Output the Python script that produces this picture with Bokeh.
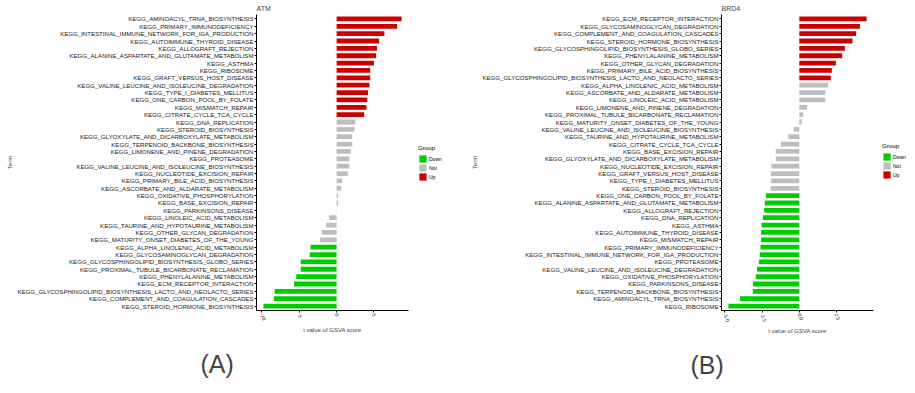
from bokeh.plotting import figure
from bokeh.models import FactorRange, Range1d, FixedTicker, Legend, LegendItem, Title, ColumnDataSource
from bokeh.layouts import row
from bokeh.embed import file_html
from bokeh.resources import INLINE

# ---------------- data ----------------
atm_terms = [
    "KEGG_AMINOACYL_TRNA_BIOSYNTHESIS",
    "KEGG_PRIMARY_IMMUNODEFICIENCY",
    "KEGG_INTESTINAL_IMMUNE_NETWORK_FOR_IGA_PRODUCTION",
    "KEGG_AUTOIMMUNE_THYROID_DISEASE",
    "KEGG_ALLOGRAFT_REJECTION",
    "KEGG_ALANINE_ASPARTATE_AND_GLUTAMATE_METABOLISM",
    "KEGG_ASTHMA",
    "KEGG_RIBOSOME",
    "KEGG_GRAFT_VERSUS_HOST_DISEASE",
    "KEGG_VALINE_LEUCINE_AND_ISOLEUCINE_DEGRADATION",
    "KEGG_TYPE_I_DIABETES_MELLITUS",
    "KEGG_ONE_CARBON_POOL_BY_FOLATE",
    "KEGG_MISMATCH_REPAIR",
    "KEGG_CITRATE_CYCLE_TCA_CYCLE",
    "KEGG_DNA_REPLICATION",
    "KEGG_STEROID_BIOSYNTHESIS",
    "KEGG_GLYOXYLATE_AND_DICARBOXYLATE_METABOLISM",
    "KEGG_TERPENOID_BACKBONE_BIOSYNTHESIS",
    "KEGG_LIMONENE_AND_PINENE_DEGRADATION",
    "KEGG_PROTEASOME",
    "KEGG_VALINE_LEUCINE_AND_ISOLEUCINE_BIOSYNTHESIS",
    "KEGG_NUCLEOTIDE_EXCISION_REPAIR",
    "KEGG_PRIMARY_BILE_ACID_BIOSYNTHESIS",
    "KEGG_ASCORBATE_AND_ALDARATE_METABOLISM",
    "KEGG_OXIDATIVE_PHOSPHORYLATION",
    "KEGG_BASE_EXCISION_REPAIR",
    "KEGG_PARKINSONS_DISEASE",
    "KEGG_LINOLEIC_ACID_METABOLISM",
    "KEGG_TAURINE_AND_HYPOTAURINE_METABOLISM",
    "KEGG_OTHER_GLYCAN_DEGRADATION",
    "KEGG_MATURITY_ONSET_DIABETES_OF_THE_YOUNG",
    "KEGG_ALPHA_LINOLENIC_ACID_METABOLISM",
    "KEGG_GLYCOSAMINOGLYCAN_DEGRADATION",
    "KEGG_GLYCOSPHINGOLIPID_BIOSYNTHESIS_GLOBO_SERIES",
    "KEGG_PROXIMAL_TUBULE_BICARBONATE_RECLAMATION",
    "KEGG_PHENYLALANINE_METABOLISM",
    "KEGG_ECM_RECEPTOR_INTERACTION",
    "KEGG_GLYCOSPHINGOLIPID_BIOSYNTHESIS_LACTO_AND_NEOLACTO_SERIES",
    "KEGG_COMPLEMENT_AND_COAGULATION_CASCADES",
    "KEGG_STEROID_HORMONE_BIOSYNTHESIS",
]
atm_t = [8.7, 8.1, 6.4, 5.7, 5.4, 5.3, 5.0, 4.5, 4.5, 4.4,
         4.2, 4.1, 4.0, 3.7, 2.5, 2.4, 2.1, 2.1, 1.9, 1.7,
         1.7, 1.5, 0.76, 0.6, 0.2, 0.2, 0.03, -1.0, -1.4, -2.0,
         -2.2, -3.5, -3.6, -4.8, -4.8, -5.4, -5.7, -8.3, -8.4, -9.8]
atm_group = ["Up", "Up", "Up", "Up", "Up", "Up", "Up", "Up", "Up", "Up",
             "Up", "Up", "Up", "Up", "Not", "Not", "Not", "Not", "Not", "Not",
             "Not", "Not", "Not", "Not", "Not", "Not", "Not", "Not", "Not", "Not",
             "Not", "Down", "Down", "Down", "Down", "Down", "Down", "Down", "Down", "Down"]

brd4_terms = [
    "KEGG_ECM_RECEPTOR_INTERACTION",
    "KEGG_GLYCOSAMINOGLYCAN_DEGRADATION",
    "KEGG_COMPLEMENT_AND_COAGULATION_CASCADES",
    "KEGG_STEROID_HORMONE_BIOSYNTHESIS",
    "KEGG_GLYCOSPHINGOLIPID_BIOSYNTHESIS_GLOBO_SERIES",
    "KEGG_PHENYLALANINE_METABOLISM",
    "KEGG_OTHER_GLYCAN_DEGRADATION",
    "KEGG_PRIMARY_BILE_ACID_BIOSYNTHESIS",
    "KEGG_GLYCOSPHINGOLIPID_BIOSYNTHESIS_LACTO_AND_NEOLACTO_SERIES",
    "KEGG_ALPHA_LINOLENIC_ACID_METABOLISM",
    "KEGG_ASCORBATE_AND_ALDARATE_METABOLISM",
    "KEGG_LINOLEIC_ACID_METABOLISM",
    "KEGG_LIMONENE_AND_PINENE_DEGRADATION",
    "KEGG_PROXIMAL_TUBULE_BICARBONATE_RECLAMATION",
    "KEGG_MATURITY_ONSET_DIABETES_OF_THE_YOUNG",
    "KEGG_VALINE_LEUCINE_AND_ISOLEUCINE_BIOSYNTHESIS",
    "KEGG_TAURINE_AND_HYPOTAURINE_METABOLISM",
    "KEGG_CITRATE_CYCLE_TCA_CYCLE",
    "KEGG_BASE_EXCISION_REPAIR",
    "KEGG_GLYOXYLATE_AND_DICARBOXYLATE_METABOLISM",
    "KEGG_NUCLEOTIDE_EXCISION_REPAIR",
    "KEGG_GRAFT_VERSUS_HOST_DISEASE",
    "KEGG_TYPE_I_DIABETES_MELLITUS",
    "KEGG_STEROID_BIOSYNTHESIS",
    "KEGG_ONE_CARBON_POOL_BY_FOLATE",
    "KEGG_ALANINE_ASPARTATE_AND_GLUTAMATE_METABOLISM",
    "KEGG_ALLOGRAFT_REJECTION",
    "KEGG_DNA_REPLICATION",
    "KEGG_ASTHMA",
    "KEGG_AUTOIMMUNE_THYROID_DISEASE",
    "KEGG_MISMATCH_REPAIR",
    "KEGG_PRIMARY_IMMUNODEFICIENCY",
    "KEGG_INTESTINAL_IMMUNE_NETWORK_FOR_IGA_PRODUCTION",
    "KEGG_PROTEASOME",
    "KEGG_VALINE_LEUCINE_AND_ISOLEUCINE_DEGRADATION",
    "KEGG_OXIDATIVE_PHOSPHORYLATION",
    "KEGG_PARKINSONS_DISEASE",
    "KEGG_TERPENOID_BACKBONE_BIOSYNTHESIS",
    "KEGG_AMINOACYL_TRNA_BIOSYNTHESIS",
    "KEGG_RIBOSOME",
]
brd4_t = [4.53, 4.08, 3.83, 3.58, 3.07, 2.89, 2.46, 2.19, 2.12, 1.94,
          1.74, 1.74, 0.52, 0.25, 0.16, -0.38, -0.74, -1.24, -1.58, -1.58,
          -1.87, -1.91, -1.91, -1.93, -2.25, -2.32, -2.36, -2.45, -2.54, -2.57,
          -2.57, -2.61, -2.66, -2.72, -2.84, -2.93, -3.11, -3.13, -3.99, -4.77]
brd4_group = ["Up", "Up", "Up", "Up", "Up", "Up", "Up", "Up", "Up", "Not",
              "Not", "Not", "Not", "Not", "Not", "Not", "Not", "Not", "Not", "Not",
              "Not", "Not", "Not", "Not", "Down", "Down", "Down", "Down", "Down", "Down",
              "Down", "Down", "Down", "Down", "Down", "Down", "Down", "Down", "Down", "Down"]

group_levels = ["Down", "Not", "Up"]
group_colors = {"Down": "#00CD00", "Not": "#BEBEBE", "Up": "#CD0000"}

atm_ticks = [-10, -5, 0, 5]
atm_tick_labels = ["-10", "-5", "0", "5"]
brd4_ticks = [-5, -2.5, 0, 2.5, 5]
brd4_tick_labels = ["-5.0", "-2.5", "0.0", "2.5", "5.0"]

FONT = "Liberation Sans"
HEIGHT = 392
TOP = 14
FRAME_H = 296


def group_sources(terms, tvals, groups):
    out = {}
    for g in group_levels:
        idx = [i for i, gg in enumerate(groups) if gg == g]
        out[g] = ColumnDataSource(dict(term=[terms[i] for i in idx],
                                       t=[tvals[i] for i in idx]))
    return out


def make_panel(title, tag, terms, tvals, groups, ticks, tick_labels,
               width, border_left, border_right, tag_offset, tag_standoff):
    lo, hi = min(tvals), max(tvals)
    pad = 0.05 * (hi - lo)
    p = figure(width=width, height=HEIGHT,
               y_range=FactorRange(factors=terms[::-1], range_padding=0.1,
                                   range_padding_units="absolute"),
               x_range=Range1d(lo - pad, hi + pad),
               output_backend="svg", toolbar_location=None,
               min_border_left=border_left, min_border_right=border_right,
               min_border_top=TOP, min_border_bottom=HEIGHT - TOP - FRAME_H)
    p.xgrid.visible = False
    p.ygrid.visible = False
    p.outline_line_color = None
    p.background_fill_color = "white"
    p.border_fill_color = "white"

    p.title.text = title
    p.title.text_font = FONT
    p.title.text_font_size = "7px"
    p.title.text_font_style = "normal"
    p.title.align = "left"
    p.title.standoff = 5
    p.title.offset = 0

    srcs = group_sources(terms, tvals, groups)
    for g in group_levels:
        p.hbar(y="term", left=0, right="t", height=0.65, source=srcs[g],
               fill_color=group_colors[g], line_color=None)

    # axes
    p.yaxis.axis_label = "Term"
    p.yaxis.axis_label_text_font = FONT
    p.yaxis.axis_label_text_font_size = "6px"
    p.yaxis.axis_label_text_font_style = "normal"
    p.yaxis.axis_label_standoff = 1
    p.yaxis.major_label_text_font = FONT
    p.yaxis.major_label_text_font_size = "6.1px"
    p.yaxis.major_label_text_color = "#1a1a1a"
    p.yaxis.major_label_standoff = 1
    p.yaxis.major_tick_out = 2
    p.yaxis.major_tick_in = 0
    p.yaxis.axis_line_color = "black"
    p.yaxis.major_tick_line_color = "black"

    p.xaxis.ticker = FixedTicker(ticks=ticks, minor_ticks=[])
    p.xaxis.major_label_overrides = {t: s for t, s in zip(ticks, tick_labels)}
    p.xaxis.major_label_orientation = -1.2
    p.xaxis.axis_label = "t value of GSVA score"
    p.xaxis.axis_label_text_font = FONT
    p.xaxis.axis_label_text_font_size = "6px"
    p.xaxis.axis_label_text_font_style = "normal"
    p.xaxis.axis_label_standoff = 2
    p.xaxis.major_label_text_font = FONT
    p.xaxis.major_label_text_font_size = "5px"
    p.xaxis.major_label_text_color = "#1a1a1a"
    p.xaxis.major_label_standoff = 1
    p.xaxis.major_tick_out = 2
    p.xaxis.major_tick_in = 0
    p.xaxis.minor_tick_line_color = None
    p.xaxis.axis_line_color = "black"
    p.xaxis.major_tick_line_color = "black"

    p.add_layout(Title(text=tag, text_font=FONT, text_font_size="25px",
                       text_font_style="normal", align="left",
                       offset=tag_offset, standoff=tag_standoff), "below")
    return p


def make_legend_fig(terms, tvals, groups, width, legend_x, legend_y):
    # zero-height group renderers: only their colours are used, by the legend keys
    q = figure(width=width, height=HEIGHT, x_range=Range1d(1000, 1001),
               y_range=FactorRange(factors=terms[::-1]),
               output_backend="svg", toolbar_location=None,
               min_border_left=0, min_border_right=0, min_border_top=0, min_border_bottom=0)
    q.axis.visible = False
    q.xgrid.visible = False
    q.ygrid.visible = False
    q.outline_line_color = None
    q.background_fill_color = "white"
    q.border_fill_color = "white"
    srcs = group_sources(terms, tvals, groups)
    items = []
    for g in group_levels:
        r = q.hbar(y="term", left=0, right="t", height=0, source=srcs[g],
                   fill_color=group_colors[g], line_color=None)
        items.append(LegendItem(label=g, renderers=[r]))
    legend = Legend(items=items, title="Group", location=(legend_x, legend_y),
                    margin=0, padding=0, border_line_color=None,
                    background_fill_alpha=0,
                    glyph_width=9, glyph_height=9, label_height=9, label_width=13,
                    spacing=0, label_standoff=2, title_standoff=3,
                    title_text_font=FONT, title_text_font_size="6.2px",
                    title_text_font_style="normal", title_text_color="#000000",
                    label_text_font=FONT, label_text_font_size="5px",
                    label_text_color="#000000")
    q.add_layout(legend)
    return q


pA = make_panel("ATM", "(A)", atm_terms, atm_t, atm_group, atm_ticks, atm_tick_labels,
                width=412, border_left=256, border_right=4,
                tag_offset=-56, tag_standoff=24)
legA = make_legend_fig(atm_terms, atm_t, atm_group, width=53, legend_x=6, legend_y=129)
pB = make_panel("BRD4", "(B)", brd4_terms, brd4_t, brd4_group, brd4_ticks, brd4_tick_labels,
                width=411, border_left=256, border_right=3,
                tag_offset=-31, tag_standoff=24)
legB = make_legend_fig(brd4_terms, brd4_t, brd4_group, width=37, legend_x=6, legend_y=131)

layout = row(pA, legA, pB, legB)
open("out.html", "w").write(file_html(layout, INLINE))
